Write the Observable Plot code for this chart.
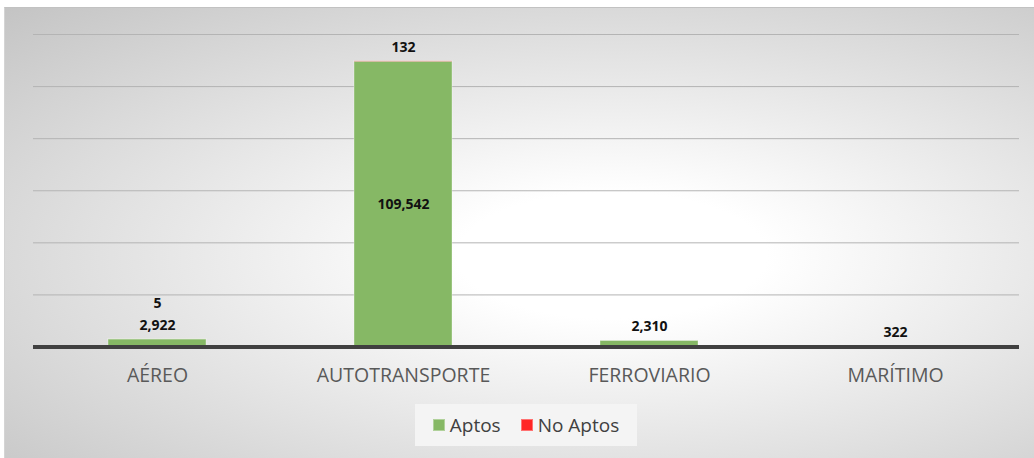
<!DOCTYPE html>
<html>
<head>
<meta charset="utf-8">
<script src="https://cdn.jsdelivr.net/npm/d3@7"></script>
<script src="https://cdn.jsdelivr.net/npm/@observablehq/plot@0.6"></script>
<style>
  html, body { margin: 0; padding: 0; background: #ffffff; }
  #wrap { position: relative; width: 1034px; height: 458px; overflow: hidden; font-family: "Open Sans", sans-serif; }
  #bg { position: absolute; left: 4px; top: 7px; right: 0; bottom: 0;
        border-top: 1px solid #c2c2c2; border-left: 1px solid #d4d4d4;
        background: radial-gradient(ellipse farthest-corner at 59% 55%, #ffffff 0%, #ffffff 18%, #c4c4c4 100%); }
  #chart { position: absolute; left: 0; top: 0; }
  #legend { position: absolute; left: 415px; top: 404px; width: 222px; height: 42px;
            background: #f4f4f4; display: flex; align-items: center; justify-content: center;
            font-size: 19px; color: #404040; gap: 0; }
  .item { display: flex; align-items: center; }
  .sw { width: 12px; height: 12px; margin-right: 5px; box-sizing: border-box; }
</style>
</head>
<body>
<div id="wrap">
  <div id="bg"></div>
  <div id="chart"></div>
  <div id="legend"></div>
</div>
<script>
const categories = ["AÉREO", "AUTOTRANSPORTE", "FERROVIARIO", "MARÍTIMO"];
const seriesNames = ["Aptos", "No Aptos"];
const aptos = [2922, 109542, 2310, 322];
const noAptos = [5, 132, null, null];
const seriesColors = ["#86b865", "#ff2525"];
const yMax = 120000;
const gridStep = 20000;

const rows = [];
categories.forEach((c, i) => {
  rows.push({cat: c, series: seriesNames[0], value: aptos[i]});
  if (noAptos[i] != null) rows.push({cat: c, series: seriesNames[1], value: noAptos[i]});
});

// label placement (Excel-like): large segments centered, small ones above the bar
const labels = [];
categories.forEach((c, i) => {
  const big = aptos[i] > yMax * 0.1;
  labels.push({cat: c, y: big ? aptos[i] / 2 : aptos[i], text: d3.format(",")(aptos[i]), pos: big ? "mid" : "above1"});
  if (noAptos[i] != null) {
    labels.push({cat: c, y: aptos[i] + noAptos[i], text: d3.format(",")(noAptos[i]), pos: big ? "above1" : "above2"});
  }
});

const fmtText = (pos, dy) => Plot.text(labels.filter(d => d.pos === pos), {
  x: "cat", y: "y", text: "text", dy, fontSize: 14, fontWeight: "bold", fill: "#111111"
});

const chart = Plot.plot({
  width: 1034,
  height: 400,
  marginLeft: 33,
  marginRight: 15,
  marginTop: 34,
  marginBottom: 53.5,
  style: {background: "transparent", fontFamily: "'Open Sans', sans-serif", overflow: "visible"},
  x: {domain: categories, paddingInner: 0.6, paddingOuter: 0.3, label: null, axis: null},
  y: {domain: [0, yMax], axis: null},
  color: {domain: seriesNames, range: seriesColors},
  marks: [
    Plot.ruleY(d3.range(gridStep, yMax + 1, gridStep), {stroke: "#b4b4b4", strokeWidth: 1}),
    Plot.barY(rows, {x: "cat", y: "value", fill: "series", stroke: "#ffffff", strokeOpacity: 0.35, strokeWidth: 1}),
    Plot.ruleY([0], {stroke: "#404040", strokeWidth: 4}),
    Plot.axisX({tickSize: 0, tickPadding: 21, fontSize: 19.5, fill: "#595959", label: null}),
    fmtText("mid", 0),
    fmtText("above1", -14),
    fmtText("above2", -36)
  ]
});
document.getElementById("chart").appendChild(chart);

const legend = document.getElementById("legend");
seriesNames.forEach((name, i) => {
  const item = document.createElement("div");
  item.className = "item";
  if (i > 0) item.style.marginLeft = "20px";
  const sw = document.createElement("div");
  sw.className = "sw";
  sw.style.background = seriesColors[i];
  sw.style.border = "1px solid rgba(255,255,255,0.35)";
  const t = document.createElement("span");
  t.textContent = name;
  item.appendChild(sw);
  item.appendChild(t);
  legend.appendChild(item);
});
</script>
</body>
</html>
